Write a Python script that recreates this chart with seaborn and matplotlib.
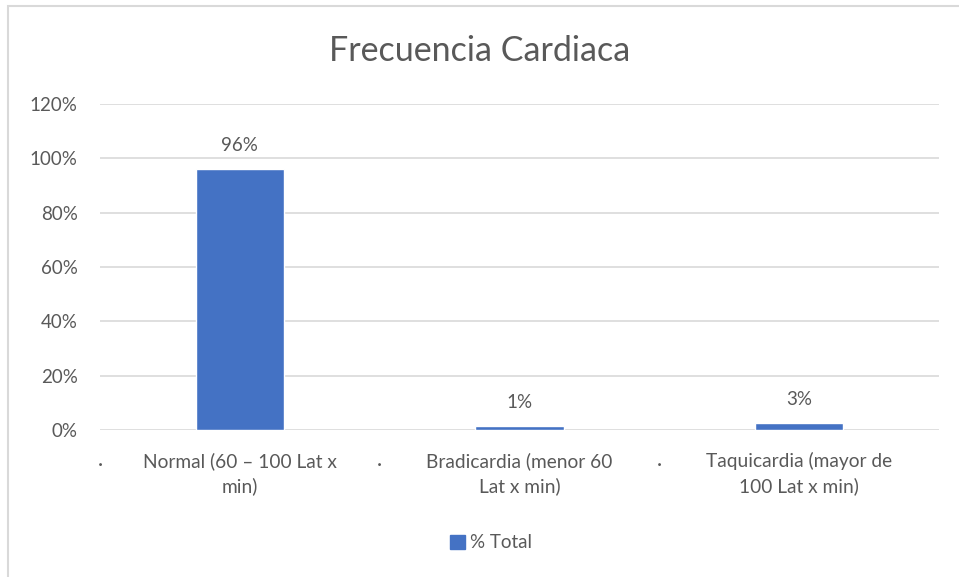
import matplotlib
matplotlib.use("Agg")
import matplotlib.pyplot as plt
import matplotlib.patches as mpatches
import matplotlib.transforms as mtransforms
from matplotlib.ticker import PercentFormatter
import seaborn as sns
import pandas as pd

categories = ["Normal (60 – 100 Lat x\nmin)",
              "Bradicardia (menor 60\nLat x min)",
              "Taquicardia (mayor de\n100 Lat x min)"]
totals = [0.96, 0.013, 0.027]
labels = ["96%", "1%", "3%"]
series_name = "% Total"

sns.set_theme(style="white")
plt.rcParams["font.family"] = ["Lato", "DejaVu Sans"]
text_col = "#595959"
bar_col = "#4472C4"

df = pd.DataFrame({"cat": categories, "val": totals})

fig = plt.figure(figsize=(9.59, 5.77), dpi=100)
ax = fig.add_axes([100 / 959, 1 - 430 / 577, 839 / 959, 326 / 577])

sns.barplot(data=df, x="cat", y="val", color=bar_col, width=0.315,
            saturation=1, ax=ax, zorder=3)

ax.set_ylim(0, 1.2)
ax.set_xlim(-0.5, 2.5)
ax.set_yticks([0, 0.2, 0.4, 0.6, 0.8, 1.0, 1.2])
ax.yaxis.set_major_formatter(PercentFormatter(1.0, decimals=0))
ax.grid(axis="y", color="#d9d9d9", linewidth=1.2, zorder=0)
ax.grid(axis="x", visible=False)
for s in ax.spines.values():
    s.set_visible(False)
ax.tick_params(axis="y", length=0, pad=16, labelsize=13.5, labelcolor=text_col)
ax.tick_params(axis="x", length=0, pad=16, labelsize=13.8, labelcolor=text_col)
for t in ax.get_xticklabels():
    t.set_linespacing(1.45)
ax.set_xlabel("")
ax.set_ylabel("")

for i, (v, lab) in enumerate(zip(totals, labels)):
    ax.annotate(lab, (i, v), xytext=(0, 13), textcoords="offset points",
                ha="center", va="baseline", fontsize=13.5, color=text_col)

# category separator marks
trans = mtransforms.blended_transform_factory(ax.transData, ax.transAxes)
for xb in [-0.5, 0.5, 1.5]:
    ax.text(xb, -0.105, "·", transform=trans, ha="center", va="center",
            fontsize=14, color=text_col)

fig.text(0.5, 1 - 51 / 577, "Frecuencia Cardiaca", ha="center", va="center",
         fontsize=24.5, color=text_col)

handle = mpatches.Patch(color=bar_col, label=series_name)
fig.legend(handles=[handle], loc="center", bbox_to_anchor=(0.512, 1 - 543 / 577),
           frameon=False, fontsize=13.5, labelcolor=text_col,
           handlelength=0.8, handleheight=0.8, handletextpad=0.3)

# outer chart border
fig.patches.append(mpatches.Rectangle((8 / 959, -0.05), 1.2, 1 - 6 / 577 + 0.05,
                                      transform=fig.transFigure, fill=False,
                                      edgecolor="#d9d9d9", linewidth=1.5))

fig.savefig("out.png", dpi=100)
